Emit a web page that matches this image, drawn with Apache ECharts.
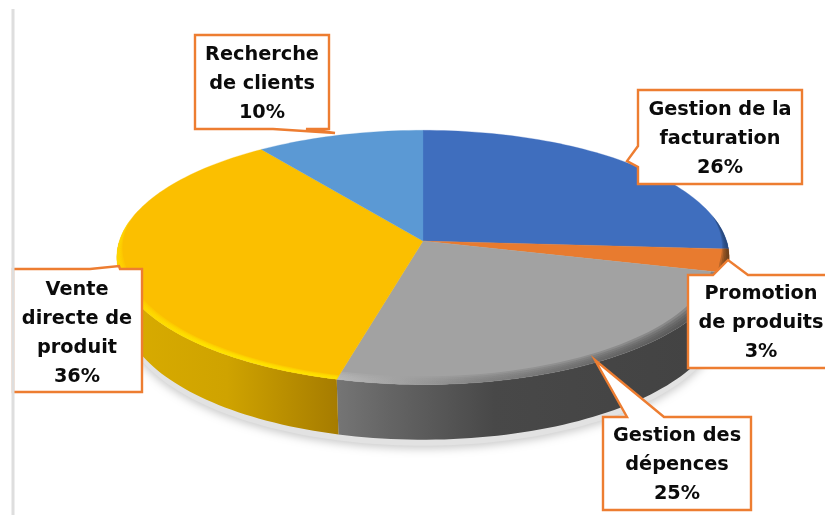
<!DOCTYPE html>
<html>
<head>
<meta charset="utf-8">
<script src="https://cdn.jsdelivr.net/npm/echarts@6/dist/echarts.min.js"></script>
<style>
html,body{margin:0;padding:0;background:#fff;}
#c{width:825px;height:515px;filter:blur(0.45px);}
</style>
</head>
<body>
<div id="c"></div>
<script>
// --- data ---
const categories = ['Gestion de la\nfacturation', 'Promotion\nde produits', 'Gestion des\ndépences', 'Vente\ndirecte de\nproduit', 'Recherche\nde clients'];
const values = [26, 3, 25, 36, 10];

// --- styles ---
const topColors = ['#3F6EBE', '#E87B2F', '#A2A2A2', '#FBBF00', '#5B99D4'];
const sideStops = [
  [[0, '#2f5597'], [1, '#2f5597']],
  [[0, '#9c5020'], [1, '#9c5020']],
  [[0, '#757575'], [0.12, '#666666'], [0.4, '#484848'], [1, '#424242']],
  [[0, '#D9AC00'], [0.5, '#CFA300'], [1, '#A67C00']],
  [[0, '#3d6f9e'], [1, '#3d6f9e']]
];
const sideRange = [[337, 730], [337, 730], [337, 730], [117, 337], [117, 337]];
const rimEdge = [
  [[0, '#22406f'], [1, '#22406f']],
  [[0, '#5a3818'], [1, '#5a3818']],
  [[0, '#bcbcbc'], [0.12, '#a8a8a8'], [0.35, '#808080'], [0.7, '#5c5c5c'], [1, '#444444']],
  [[0, '#FFD800'], [0.4, '#FFEA00'], [1, '#FFE800']],
  [[0, '#5B99D4'], [1, '#5B99D4']]
];
const rimDepth = [0.03, 0.03, 0.05, 0.026, 0];
const rimFadeIn = [78, 100];
const rimFadeOut = [258, 280];
const rimBands = 5;

// --- layout of the perspective disc ---
const P = 0.129;
const topDisc = {cx: 423, cy: 241, rx: 303.6, ry: 125};
const botDisc = {cx: 423, cy: 293, rx: 297.5, ry: 127.8};

// --- layout of the callouts (outline, then text centre) ---
const calloutOutlines = [
  [[638,90],[802,90],[802,184],[638,184],[638,167],[627,161],[638,146]],
  [[688,275],[713,275],[728,260],[748,275],[830,275],[830,368],[688,368]],
  [[603,417],[627,417],[595,360],[664,417],[751,417],[751,510],[603,510]],
  [[13,269],[90,269],[119,266],[120,269],[142,269],[142,392],[13,392]],
  [[195,35],[329,35],[329,129],[306,129],[335,133],[273,129],[195,129]]
];
const calloutCentres = [[720,139],[761,322.5],[677,465],[77,333],[262,84]];

function proj(d, deg, r) {
  const a = deg * Math.PI / 180, s = Math.sin(a) * r, c = Math.cos(a) * r;
  const w = 1 + P * c;
  return [d.cx + d.rx * s / w, d.cy - d.ry * c / w];
}
function arc(d, a0, a1, r) {
  const n = Math.max(2, Math.ceil(Math.abs(a1 - a0) / 1.5));
  const pts = [];
  for (let i = 0; i <= n; i++) {
    const a = a0 + (a1 - a0) * i / n;
    pts.push(proj(d, a, typeof r === 'function' ? r(a) : r));
  }
  return pts;
}
function grad(stops, range) {
  return new echarts.graphic.LinearGradient(range[0], 0, range[1], 0,
    stops.map(s => ({offset: s[0], color: s[1]})), true);
}
function rimFactor(a) {
  if (a <= rimFadeIn[0] || a >= rimFadeOut[1]) return 0;
  if (a < rimFadeIn[1]) return (a - rimFadeIn[0]) / (rimFadeIn[1] - rimFadeIn[0]);
  if (a > rimFadeOut[0]) return (rimFadeOut[1] - a) / (rimFadeOut[1] - rimFadeOut[0]);
  return 1;
}

const total = values.reduce((a, b) => a + b, 0);
let running = 0;
const sliceData = values.map((v, i) => {
  const row = {name: categories[i].replace(/\n/g, ' '), value: [i, running, v]};
  running += v;
  return row;
});
const angles = api => {
  const start = api.value(1) / total * 360;
  return [start, start + api.value(2) / total * 360];
};

function renderSide(params, api) {
  const i = api.value(0);
  const [a0, a1] = angles(api);
  const s = Math.max(a0, 90), e = Math.min(a1, 270);
  if (e <= s) return {type: 'group', children: []};
  const pts = arc(topDisc, s, e, 1).concat(arc(botDisc, e, s, 1));
  return {type: 'polygon', shape: {points: pts},
    style: {fill: grad(sideStops[i], sideRange[i]), stroke: null}};
}
function renderTop(params, api) {
  const i = api.value(0);
  const [a0, a1] = angles(api);
  const centre = [topDisc.cx, topDisc.cy];
  const children = [
    {type: 'polygon', shape: {points: [centre].concat(arc(topDisc, a0, a1, 1))},
     style: {fill: topColors[i], stroke: topColors[i], lineWidth: 0.3}}
  ];
  if (rimDepth[i] > 0) {
    for (let k = 1; k <= rimBands; k++) {
      const depth = rimDepth[i] * k / rimBands;
      const inner = a => 1 - depth * rimFactor(a);
      children.push({type: 'polygon',
        shape: {points: arc(topDisc, a0, a1, 1).concat(arc(topDisc, a1, a0, inner))},
        style: {fill: grad(rimEdge[i], sideRange[i]), opacity: 0.32}});
    }
  }
  return {type: 'group', children};
}
function renderShadow() {
  const pts = arc(botDisc, 60, 300, 1).map(p => [p[0], p[1] + 6]);
  return {type: 'polygon', shape: {points: pts},
    style: {fill: '#e2e2e2', shadowColor: 'rgba(190,190,190,0.8)', shadowBlur: 9, shadowOffsetY: 3}};
}
function renderCallout(params, api) {
  const i = api.value(0);
  const c = calloutCentres[i];
  return {type: 'group', children: [
    {type: 'polygon', shape: {points: calloutOutlines[i]},
     style: {fill: '#fff', stroke: '#ED7D31', lineWidth: 2.4, lineJoin: 'miter'}},
    {type: 'text', style: {
      text: categories[i] + '\n' + api.value(2) + '%',
      x: c[0], y: c[1], align: 'center', verticalAlign: 'middle',
      fill: '#0b0b0b', font: 'bold 19.3px "DejaVu Sans"', lineHeight: 29}}
  ]};
}
function renderFrameLine() {
  return {type: 'rect', shape: {x: 11.5, y: 9, width: 3, height: 506}, style: {fill: '#dedede'}};
}

const chart = echarts.init(document.getElementById('c'), null, {renderer: 'canvas'});
chart.setOption({
  animation: false,
  backgroundColor: '#fff',
  series: [
    {type: 'custom', coordinateSystem: 'none', z: 1, silent: true, renderItem: renderShadow, data: [sliceData[0]]},
    {type: 'custom', coordinateSystem: 'none', z: 2, silent: true, renderItem: renderSide, data: sliceData},
    {type: 'custom', coordinateSystem: 'none', z: 3, silent: true, renderItem: renderTop, data: sliceData},
    {type: 'custom', coordinateSystem: 'none', z: 4, silent: true, renderItem: renderCallout, data: sliceData},
    {type: 'custom', coordinateSystem: 'none', z: 5, silent: true, renderItem: renderFrameLine, data: [sliceData[0]]}
  ]
});
</script>
</body>
</html>
